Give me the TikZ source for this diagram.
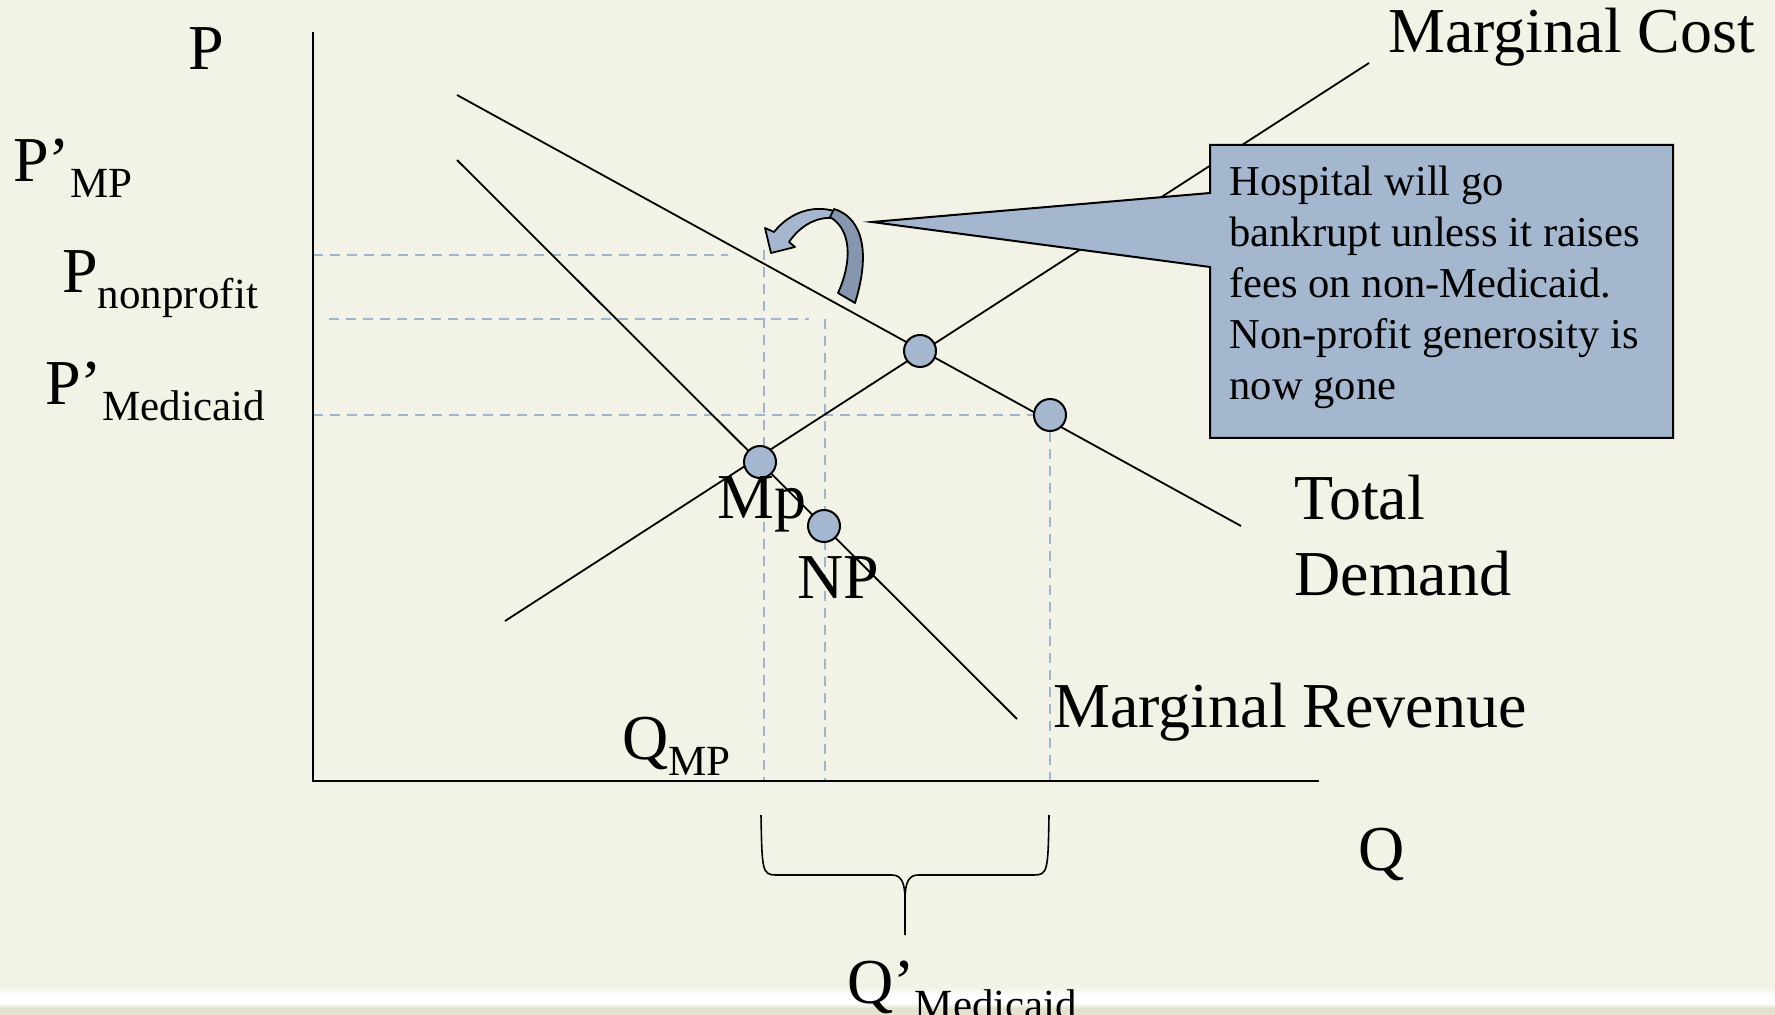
\documentclass[tikz,border=0pt]{standalone}
\usepackage{fontspec}
\setmainfont{Liberation Serif}
\definecolor{slidebg}{RGB}{242,242,230}
\definecolor{banddark}{RGB}{227,226,204}
\definecolor{ptblue}{RGB}{165,183,206}
\definecolor{guideblue}{RGB}{160,180,206}
\definecolor{arrowdark}{RGB}{133,150,174}
\newcommand{\lowsub}[1]{\raisebox{-8pt}{\fontsize{21.5}{24}\selectfont #1}}
\begin{document}
\begin{tikzpicture}[x=0.5pt, y=-0.5pt,
    every node/.style={inner sep=0pt, anchor=base west, font=\fontsize{32}{38}\selectfont},
    axis/.style={line width=1.1pt},
    curve/.style={line width=0.9pt},
    guide/.style={draw=guideblue, line width=0.8pt, dash pattern=on 5pt off 3.5pt},
    eqpt/.style={circle, draw, line width=1pt, fill=ptblue, minimum size=16pt, anchor=center},
    notebox/.style={fill=ptblue, draw, line width=1pt, line join=miter},
    notetext/.style={font=\fontsize{21.3}{25.5}\selectfont, align=left, anchor=north west},
    curlyarrow/.style={draw, line width=0.9pt, line join=round}]
    \useasboundingbox (0,0) rectangle (1775,1015);
    \fill[slidebg] (0,0) rectangle (1775,1015);
    \shade[top color=slidebg, bottom color=white] (0,987) rectangle (1775,996);
    \fill[white] (0,996) rectangle (1775,1003);
    \shade[top color=white, bottom color=banddark] (0,1003) rectangle (1775,1008);
    \fill[banddark] (0,1008) rectangle (1775,1015);
    % axes and curves
    \coordinate (origin) at (313,781);
    \coordinate (ptop) at (313,32);
    \coordinate (qend) at (1319,781);
    \coordinate (dtop) at (457,95);
    \coordinate (dend) at (1241,526);
    \coordinate (mrtop) at (457,160);
    \coordinate (mrend) at (1017,719);
    \coordinate (mcbot) at (505,621);
    \coordinate (mcend) at (1369,63);
    \coordinate (eq) at (920,351);
    \coordinate (pm) at (1050,415);
    \coordinate (mp) at (760,462);
    \coordinate (np) at (824,526);
    \draw[guide] (313,255) -- (728,255);
    \draw[guide] (764,250) -- (764,781);
    \draw[guide] (329,319) -- (809,319);
    \draw[guide] (825,319) -- (825,781);
    \draw[guide] (313,415) -- (pm);
    \draw[guide] (pm) -- (pm |- origin);
    \draw[axis] (ptop) -- (origin) -- (qend);
    \draw[curve] (dtop) -- (dend);
    \draw[curve] (mrtop) -- (mrend);
    \draw[curve] (mcbot) -- (mcend);
    % curved arrow
    \filldraw[curlyarrow, fill=ptblue] (840,213) .. controls (815,203) and (790,212) .. (774,232) -- (765,228) -- (771,253) -- (795,247) -- (789,242) .. controls (800,226) and (818,214) .. (840,219) -- cycle;
    \filldraw[curlyarrow, fill=arrowdark] (834,209) .. controls (858,216) and (873,245) .. (855,303) -- (838,293) .. controls (852,262) and (852,230) .. (830,217) -- cycle;
    % callout
    \coordinate (tip) at (872,222);
    \filldraw[notebox] (1210,145) -- (1673,145) -- (1673,438) -- (1210,438) -- (1210,267) -- (tip) -- (1210,193) -- cycle;
    \node[notetext] (note) at (1229,166) {Hospital will go\\bankrupt unless it raises\\fees on non-Medicaid.\\Non-profit generosity is\\now gone};
    % points
    \node[eqpt] (eqdot) at (eq) {};
    \node[eqpt] (pmdot) at (pm) {};
    \node[eqpt] (mpdot) at (mp) {};
    \node[eqpt] (npdot) at (np) {};
    % bracket
    \coordinate (brl) at (761,815);
    \coordinate (brr) at (1049,815);
    \coordinate (brtip) at (905,935);
    \draw[line width=0.8pt] (brl) .. controls (762,870) and (762,875) .. (776,875) -- (892,875) .. controls (902,875) and (905,884) .. (905,900) -- (brtip);
    \draw[line width=0.8pt] (brr) .. controls (1048,870) and (1048,875) .. (1034,875) -- (918,875) .. controls (908,875) and (905,884) .. (905,900);
    % labels
    \node (plab) at (188,70) {P};
    \node (pmplab) at (13,182) {P’\lowsub{MP}};
    \node (pnplab) at (62,293) {P\lowsub{nonprofit}};
    \node (pmedlab) at (45,405) {P’\lowsub{Medicaid}};
    \node (qmplab) at (622,759) {Q\lowsub{MP}};
    \node (qlab) at (1358,870) {Q};
    \node (qmedlab) at (847,1003) {Q’\lowsub{Medicaid}};
    \node (mplab) at (717,518) {Mp};
    \node (nplab) at (797,598) {NP};
    \node (mclab) at (1388,53) {Marginal Cost};
    \node[align=left] (tdlab) at (1294,595) {Total\\Demand};
    \node (mrlab) at (1053,727) {Marginal Revenue};
\end{tikzpicture}
\end{document}
